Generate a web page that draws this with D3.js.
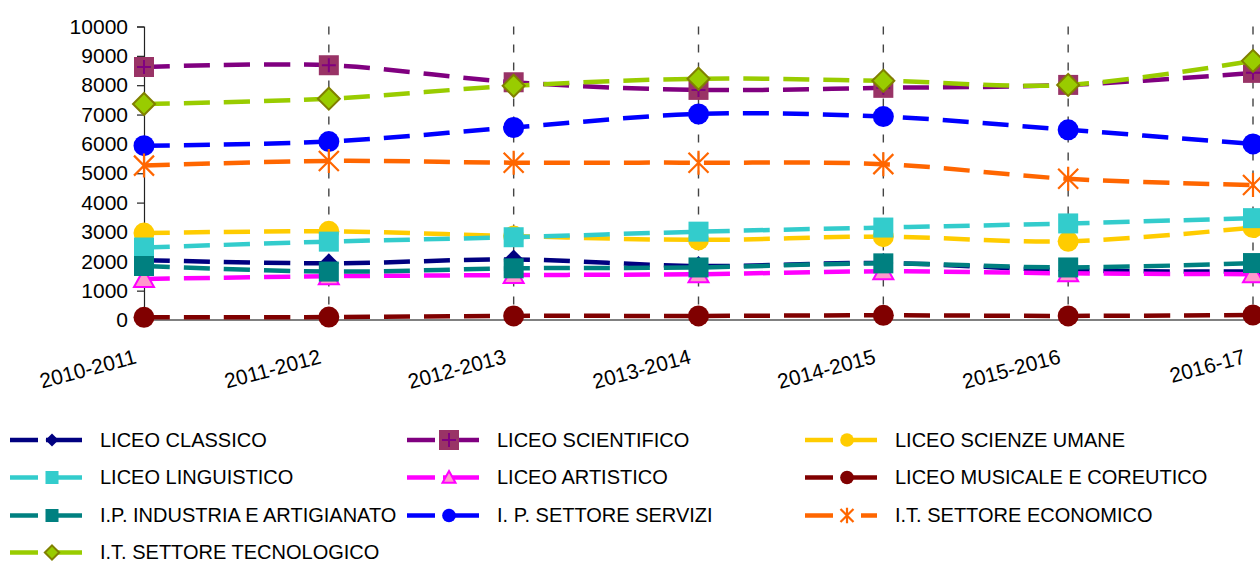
<!DOCTYPE html>
<html>
<head>
<meta charset="utf-8">
<script src="https://cdn.jsdelivr.net/npm/d3@7"></script>
<style>
  html, body { margin: 0; padding: 0; background: #fff; }
  svg { display: block; font-family: "Liberation Sans", Arial, sans-serif; }
</style>
</head>
<body>
<svg id="chart" width="1260" height="562"></svg>
<script>
// anni scolastici
var years = ["2010-2011", "2011-2012", "2012-2013", "2013-2014", "2014-2015", "2015-2016", "2016-17"];
var yTicks = [0, 1000, 2000, 3000, 4000, 5000, 6000, 7000, 8000, 9000, 10000];

// iscritti per indirizzo
var liceoClassico      = [2040, 1930, 2060, 1840, 1940, 1690, 1650];
var liceoScientifico   = [8620, 8680, 8100, 7840, 7910, 8010, 8420];
var liceoScienzeUmane  = [2960, 3020, 2860, 2730, 2840, 2680, 3150];
var liceoLinguistico   = [2470, 2670, 2820, 3010, 3150, 3290, 3470];
var liceoArtistico     = [1400, 1490, 1530, 1560, 1660, 1590, 1560];
var liceoMusicale      = [90, 100, 140, 140, 160, 140, 170];
var ipIndustria        = [1840, 1650, 1760, 1790, 1930, 1790, 1940];
var ipServizi          = [5940, 6080, 6560, 7020, 6930, 6480, 6000];
var itEconomico        = [5260, 5420, 5360, 5360, 5310, 4810, 4600];
var itTecnologico      = [7360, 7540, 7980, 8220, 8150, 8010, 8830];

var series = [
  {name: "LICEO CLASSICO", values: liceoClassico, color: "#000080", marker: "diamond", fill: "#000080"},
  {name: "LICEO SCIENTIFICO", values: liceoScientifico, color: "#800080", marker: "squarePlus", fill: "#993366"},
  {name: "LICEO SCIENZE UMANE", values: liceoScienzeUmane, color: "#ffcc00", marker: "circle", fill: "#ffcc00"},
  {name: "LICEO LINGUISTICO", values: liceoLinguistico, color: "#33cccc", marker: "square", fill: "#33cccc"},
  {name: "LICEO ARTISTICO", values: liceoArtistico, color: "#ff00ff", marker: "triangle", fill: "#ff99cc"},
  {name: "LICEO MUSICALE E COREUTICO", values: liceoMusicale, color: "#800000", marker: "circle", fill: "#800000"},
  {name: "I.P. INDUSTRIA E ARTIGIANATO", values: ipIndustria, color: "#008080", marker: "square", fill: "#008080"},
  {name: "I. P. SETTORE SERVIZI", values: ipServizi, color: "#0000ff", marker: "circle", fill: "#0000ff"},
  {name: "I.T. SETTORE ECONOMICO", values: itEconomico, color: "#ff6600", marker: "star", fill: "none"},
  {name: "I.T. SETTORE TECNOLOGICO", values: itTecnologico, color: "#99cc00", marker: "diamondOutline", fill: "#99cc00"}
];

var svg = d3.select("#chart");

var x = d3.scalePoint().domain(years).range([144, 1253]).padding(0);
var y = d3.scaleLinear().domain([0, 10000]).range([320, 26.5]);

// griglia verticale tratteggiata
svg.append("g").selectAll("line")
  .data(years.slice(1))
  .enter().append("line")
  .attr("x1", function(d) { return x(d); })
  .attr("x2", function(d) { return x(d); })
  .attr("y1", y(10000)).attr("y2", y(0))
  .attr("stroke", "#444").attr("stroke-width", 1.4)
  .attr("stroke-dasharray", "8,10");

// asse y
var yAxis = svg.append("g")
  .attr("transform", "translate(144,0)")
  .call(d3.axisLeft(y).tickValues(yTicks).tickSize(7).tickPadding(9).tickFormat(d3.format("d")));
yAxis.select(".domain").attr("stroke", "#222").attr("stroke-width", 1.2);
yAxis.selectAll(".tick line").attr("stroke", "#222").attr("stroke-width", 1.2);
yAxis.selectAll("text").attr("font-size", 21).attr("fill", "#000")
  .attr("font-family", "Liberation Sans, Arial, sans-serif");

// asse x
var xAxis = svg.append("g")
  .attr("transform", "translate(0," + y(0) + ")")
  .call(d3.axisBottom(x).tickSize(0).tickPadding(0));
xAxis.select(".domain").attr("stroke", "#808080").attr("stroke-width", 2.2)
  .attr("d", "M144,0H1260");
xAxis.selectAll("text")
  .attr("font-size", 21).attr("fill", "#000")
  .attr("font-family", "Liberation Sans, Arial, sans-serif")
  .attr("text-anchor", "end")
  .attr("dy", 0).attr("y", 0)
  .attr("transform", "translate(-7,43) rotate(-15)");

// k = fattore di scala del marcatore (legenda piu piccola)
function drawMarker(g, s, cx, cy, k) {
  var m = s.marker;
  k = k || 1;
  if (m === "circle") {
    g.append("circle").attr("cx", cx).attr("cy", cy).attr("r", 10.5 * k).attr("fill", s.fill);
  } else if (m === "square") {
    g.append("rect").attr("x", cx - 10 * k).attr("y", cy - 10 * k).attr("width", 20 * k).attr("height", 20 * k).attr("fill", s.fill);
  } else if (m === "squarePlus") {
    g.append("rect").attr("x", cx - 10 * k).attr("y", cy - 10 * k).attr("width", 20 * k).attr("height", 20 * k).attr("fill", s.fill);
    g.append("path").attr("d", "M" + (cx - 7 * k) + "," + cy + "H" + (cx + 7 * k) + "M" + cx + "," + (cy - 7 * k) + "V" + (cy + 7 * k))
      .attr("stroke", s.color).attr("stroke-width", 2);
  } else if (m === "diamond") {
    g.append("path").attr("d", "M" + cx + "," + (cy - 10 * k) + "L" + (cx + 10 * k) + "," + cy + "L" + cx + "," + (cy + 10 * k) + "L" + (cx - 10 * k) + "," + cy + "Z")
      .attr("fill", s.fill);
  } else if (m === "diamondOutline") {
    g.append("path").attr("d", "M" + cx + "," + (cy - 11 * k) + "L" + (cx + 11 * k) + "," + cy + "L" + cx + "," + (cy + 11 * k) + "L" + (cx - 11 * k) + "," + cy + "Z")
      .attr("fill", s.fill).attr("stroke", "#808000").attr("stroke-width", 2);
  } else if (m === "triangle") {
    g.append("path").attr("d", "M" + cx + "," + (cy - 10 * k) + "L" + (cx + 10 * k) + "," + (cy + 8 * k) + "L" + (cx - 10 * k) + "," + (cy + 8 * k) + "Z")
      .attr("fill", s.fill).attr("stroke", s.color).attr("stroke-width", 2);
  } else if (m === "star") {
    g.append("path").attr("d",
      "M" + (cx - 10 * k) + "," + (cy - 10 * k) + "L" + (cx + 10 * k) + "," + (cy + 10 * k) +
      "M" + (cx + 10 * k) + "," + (cy - 10 * k) + "L" + (cx - 10 * k) + "," + (cy + 10 * k) +
      "M" + cx + "," + (cy - 12 * k) + "V" + (cy + 12 * k))
      .attr("stroke", s.color).attr("stroke-width", 2.2).attr("fill", "none");
  }
}

var line = d3.line()
  .x(function(d, i) { return x(years[i]); })
  .y(function(d) { return y(d); })
  .curve(d3.curveCardinal.tension(0));

// serie
series.forEach(function(s) {
  var g = svg.append("g");
  g.append("path")
    .attr("d", line(s.values))
    .attr("fill", "none")
    .attr("stroke", s.color)
    .attr("stroke-width", 4.5)
    .attr("stroke-dasharray", "26,14");
  s.values.forEach(function(v, i) {
    drawMarker(g, s, x(years[i]), y(v), 1);
  });
});

// legenda
var legendRows = [440, 477.5, 515.5, 552.5];
var legendCols = [10, 407, 805];
series.forEach(function(s, i) {
  var lx = legendCols[i % 3], ly = legendRows[Math.floor(i / 3)];
  var g = svg.append("g");
  g.append("line").attr("x1", lx).attr("x2", lx + 28).attr("y1", ly).attr("y2", ly)
    .attr("stroke", s.color).attr("stroke-width", 4.5);
  g.append("line").attr("x1", lx + (s.marker === "star" ? 56 : 36)).attr("x2", lx + 72).attr("y1", ly).attr("y2", ly)
    .attr("stroke", s.color).attr("stroke-width", 4.5);
  drawMarker(g, s, lx + 42, ly, s.marker === "squarePlus" ? 1 : 0.65);
  g.append("text").attr("x", lx + 90).attr("y", ly + 6.5)
    .attr("font-size", 20).attr("fill", "#000")
    .text(s.name);
});
</script>
</body>
</html>
